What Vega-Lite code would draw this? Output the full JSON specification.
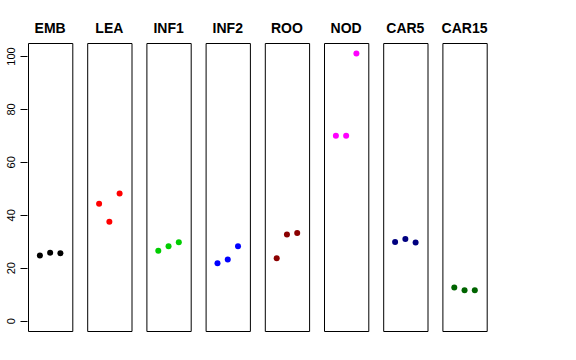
{
  "$schema": "https://vega.github.io/schema/vega-lite/v6.json",
  "padding": {"left": 4, "top": 22, "right": 0, "bottom": 0},
  "data": {"values": [
    {"g": "EMB", "i": 1, "v": 24.6}, {"g": "EMB", "i": 2, "v": 25.7}, {"g": "EMB", "i": 3, "v": 25.5},
    {"g": "LEA", "i": 1, "v": 44.2}, {"g": "LEA", "i": 2, "v": 37.4}, {"g": "LEA", "i": 3, "v": 48.0},
    {"g": "INF1", "i": 1, "v": 26.4}, {"g": "INF1", "i": 2, "v": 28.1}, {"g": "INF1", "i": 3, "v": 29.6},
    {"g": "INF2", "i": 1, "v": 21.7}, {"g": "INF2", "i": 2, "v": 23.1}, {"g": "INF2", "i": 3, "v": 28.1},
    {"g": "ROO", "i": 1, "v": 23.6}, {"g": "ROO", "i": 2, "v": 32.6}, {"g": "ROO", "i": 3, "v": 33.1},
    {"g": "NOD", "i": 1, "v": 69.9}, {"g": "NOD", "i": 2, "v": 69.9}, {"g": "NOD", "i": 3, "v": 100.9},
    {"g": "CAR5", "i": 1, "v": 29.7}, {"g": "CAR5", "i": 2, "v": 30.9}, {"g": "CAR5", "i": 3, "v": 29.5},
    {"g": "CAR15", "i": 1, "v": 12.5}, {"g": "CAR15", "i": 2, "v": 11.5}, {"g": "CAR15", "i": 3, "v": 11.5}
  ]},
  "facet": {
    "column": {
      "field": "g",
      "type": "nominal",
      "sort": ["EMB", "LEA", "INF1", "INF2", "ROO", "NOD", "CAR5", "CAR15"],
      "header": {
        "title": null,
        "labelFontSize": 14,
        "labelFontWeight": "bold",
        "labelFont": "Liberation Sans",
        "labelColor": "black",
        "labelPadding": 6
      }
    }
  },
  "spacing": 13.2,
  "spec": {
    "width": 44.3,
    "height": 288,
    "mark": {"type": "circle", "size": 36, "opacity": 1},
    "encoding": {
      "x": {"field": "i", "type": "quantitative", "scale": {"domain": [-0.16, 4.16], "nice": false, "zero": false}, "axis": null},
      "y": {
        "field": "v", "type": "quantitative",
        "scale": {"domain": [-3.9, 104.9], "nice": false, "zero": false},
        "axis": {
          "values": [0, 20, 40, 60, 80, 100],
          "title": null, "grid": false, "domain": false,
          "tickColor": "black", "tickSize": 7, "tickWidth": 1,
          "labelAngle": -90, "labelFontSize": 11, "labelFont": "Liberation Sans",
          "labelColor": "black", "labelPadding": 4
        }
      },
      "color": {
        "field": "g", "type": "nominal", "legend": null,
        "scale": {
          "domain": ["EMB", "LEA", "INF1", "INF2", "ROO", "NOD", "CAR5", "CAR15"],
          "range": ["#000000", "#FF0000", "#00CD00", "#0000FF", "#8B0000", "#FF00FF", "#000080", "#006400"]
        }
      }
    }
  },
  "config": {
    "view": {"stroke": "#000000", "strokeWidth": 1},
    "background": "white"
  }
}
